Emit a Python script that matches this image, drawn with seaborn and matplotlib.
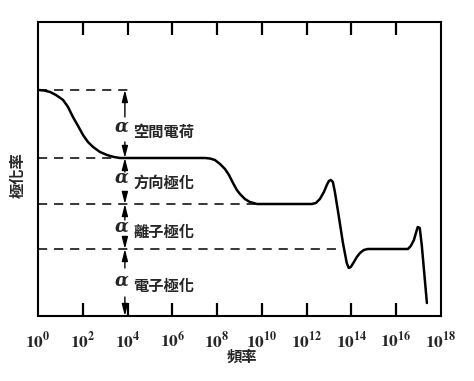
import matplotlib
matplotlib.use('Agg')
import matplotlib.pyplot as plt
import numpy as np
import pandas as pd
import seaborn as sns

# curve: log10(frequency) vs polarizability (arbitrary units)
log_freq = [0, 0.27, 0.54, 0.80, 1.12, 1.34, 1.56, 1.79, 2.01, 2.23, 2.46, 2.77, 3.08, 3.39, 3.66,
            7.46, 7.68, 7.90, 8.13, 8.35, 8.53, 8.71, 8.88, 9.02, 9.24, 9.46, 9.78,
            12.23, 12.41, 12.59, 12.77, 12.90, 12.99, 13.08, 13.17, 13.26, 13.39, 13.62,
            13.79, 13.88, 13.97, 14.11, 14.24, 14.38, 14.55, 14.73,
            16.52, 16.65, 16.79, 16.88, 16.96, 17.05, 17.14, 17.37]
polar = [226, 225.5, 224, 221, 216, 209, 199, 190, 181, 174, 169, 164, 161, 159, 158,
         158, 157.5, 156, 152, 147, 141, 133, 126, 122, 117, 114, 112,
         112, 113, 117, 124, 131, 135, 136, 134, 124, 106, 73,
         53, 48, 49, 54, 59, 63, 66, 67,
         67, 70, 76, 83, 89, 88, 71, 13]

# plateau levels and where their dashed guide lines end
levels = [226, 158, 112, 67]
level_ends = [4.2, 3.4, 9.8, 13.55]

# mechanism labels
mech_names = ['空間電荷', '方向極化', '離子極化', '電子極化']
mech_y = [184, 133, 84, 30]
# arrow segments (start, end) for each mechanism
arrows = [(199, 226), (174, 158), (144, 158), (122, 112),
          (96, 112), (78, 67), (48, 67), (19, 0)]

tick_exp = list(range(0, 19, 2))
y_top = 294

sns.set_style('white')
plt.rcParams['font.family'] = ['Noto Sans CJK TC', 'DejaVu Sans']
plt.rcParams['mathtext.fontset'] = 'stix'

fig = plt.figure(figsize=(4.74, 3.81), dpi=100)
ax = fig.add_axes([0.0802, 0.1706, 0.8502, 0.7717])

df = pd.DataFrame({'freq': np.power(10.0, log_freq), 'polar': polar})
sns.lineplot(data=df, x='freq', y='polar', sort=False, color='black', lw=1.8, ax=ax)

for lv, end in zip(levels, level_ends):
    ax.plot([1, 10 ** end], [lv, lv], color='black', lw=1.1, ls=(0, (6, 4.5)))

ax_x = 10 ** 3.88
for s, e in arrows:
    ax.annotate('', xy=(ax_x, e), xytext=(ax_x, s),
                arrowprops=dict(arrowstyle='-|>,head_length=0.7,head_width=0.18',
                                color='black', lw=1.0, shrinkA=0, shrinkB=0))

for name, y in zip(mech_names, mech_y):
    ax.text(10 ** 3.75, y + 5, 'α', ha='center', va='center', fontsize=13,
            family='DejaVu Serif', style='italic', weight='bold')
    ax.text(10 ** 4.25, y, name, ha='left', va='center', fontsize=11, weight='bold')

ax.set_xscale('log')
ax.set_xlim(1, 1e18)
ax.set_ylim(0, y_top)

# inward tick marks on bottom and top edges
inner = [10.0 ** k for k in tick_exp[1:-1]]
ax.vlines(inner, 0, 13, colors='black', linewidths=1.6, zorder=5)
ax.vlines(inner, y_top - 13, y_top, colors='black', linewidths=1.6, zorder=5)

ax.xaxis.set_major_locator(matplotlib.ticker.FixedLocator([10.0 ** k for k in tick_exp]))
ax.xaxis.set_minor_locator(matplotlib.ticker.NullLocator())
ax.set_xticklabels([r'$\mathbf{10^{%d}}$' % k for k in tick_exp], fontsize=12.5)
ax.set_yticks([])
ax.tick_params(axis='x', which='major', direction='in', length=0, pad=11)

for sp in ax.spines.values():
    sp.set_visible(True)
    sp.set_color('black')
    sp.set_linewidth(1.5)

ax.set_xlabel('')
ax.set_ylabel('')
fig.text(0.038, 0.54, '極化率', rotation=90, ha='center', va='center', fontsize=11, weight='bold')
fig.text(0.51, 0.063, '頻率', ha='center', va='center', fontsize=11, weight='bold')

fig.savefig('out.png', dpi=100)
